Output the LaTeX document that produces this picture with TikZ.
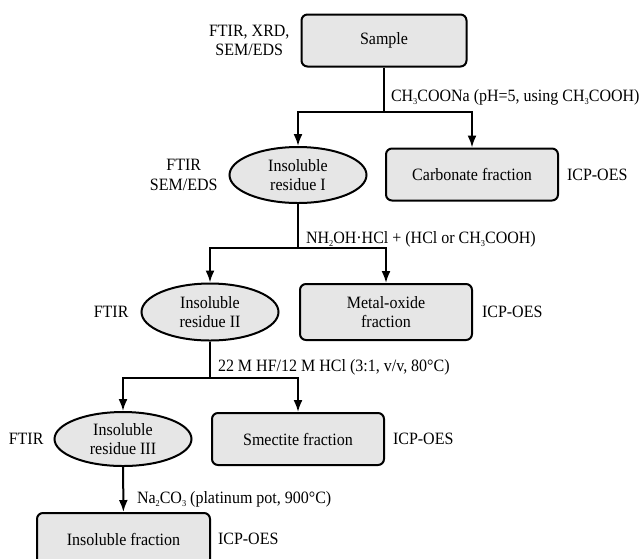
\documentclass[tikz,border=0pt]{standalone}
\usepackage{fontspec}
\setmainfont{Liberation Serif}[FakeStretch=0.925]
\usetikzlibrary{positioning,arrows.meta,shapes.geometric}
\definecolor{boxfill}{RGB}{230,230,230}
\newcommand\subn[1]{\raisebox{-0.45ex}{\fontsize{9pt}{9pt}\selectfont#1}}
\tikzset{
fracbox/.style={
  rectangle,
  rounded corners=6pt,
  draw=black,
  fill=boxfill,
  minimum width=172pt,
  minimum height=52pt,
  align=center
  },
residue/.style={
  ellipse,
  draw=black,
  fill=boxfill,
  minimum width=137pt,
  minimum height=55pt,
  inner sep=0pt,
  align=center
  },
method/.style={inner sep=0pt, align=center},
reagent/.style={inner sep=0pt, anchor=west}
}
\begin{document}
\begin{tikzpicture}[x=1pt,y=-1pt,>={Latex[length=12pt,width=9pt]},
    line width=2pt,font=\fontsize{17.3pt}{19.5pt}\selectfont]

\useasboundingbox (0,0) rectangle (644,558);
\clip (0,0) rectangle (644,558);

\node[fracbox,minimum width=165pt] at (384,40.5) (sample) {Sample};
\node[residue,minimum height=56pt] at (298,175) (resI) {Insoluble\\residue I};
\node[fracbox] at (472,174.5) (carbonate) {Carbonate fraction};
\node[residue,minimum height=57pt] at (210,312) (resII) {Insoluble\\residue II};
\node[fracbox,minimum height=56pt] at (386,312) (metaloxide) {Metal-oxide\\fraction};
\node[residue,minimum height=54pt] at (123,439) (resIII) {Insoluble\\residue III};
\node[fracbox] at (298,439) (smectite) {Smectite fraction};
\node[fracbox,minimum width=173pt] at (123.5,539) (insoluble) {Insoluble fraction};

\node[method,left=10pt of sample] (anaSample) {FTIR, XRD,\\SEM/EDS};
\node[method,left=10pt of resI] (anaResI) {FTIR\\SEM/EDS};
\node[method,left=11pt of resII] (anaResII) {FTIR};
\node[method,left=9pt of resIII] (anaResIII) {FTIR};

\node[method,right=7pt of carbonate] (icpCarbonate) {ICP-OES};
\node[method,right=8pt of metaloxide] (icpMetaloxide) {ICP-OES};
\node[method,right=7pt of smectite] (icpSmectite) {ICP-OES};
\node[method,right=6pt of insoluble] (icpInsoluble) {ICP-OES};

\coordinate (split1) at (384,112);
\coordinate (split2) at (298,248);
\coordinate (split3) at (210,378);

\begin{scope}
\draw (sample) -- (split1);
\draw[->] (split1) -| (resI);
\draw[->] (split1) -| (carbonate);

\draw (resI) -- (split2);
\draw[->] (split2) -| (resII);
\draw[->] (split2) -| (metaloxide);

\draw (resII) -- (split3);
\draw[->] (split3) -| (resIII);
\draw[->] (split3) -| (smectite);

\draw[->] (resIII) -- (insoluble);
\end{scope}

\node[reagent] at (390,97) (step1)
  {CH\subn{3}COONa (pH=5, using CH\subn{3}COOH)};
\node[reagent] at (305,239) (step2)
  {NH\subn{2}OH·HCl + (HCl or CH\subn{3}COOH)};
\node[reagent] at (217,367) (step3)
  {22 M HF/12 M HCl (3:1, v/v, 80°C)};
\node[reagent] at (136,499) (step4)
  {Na\subn{2}CO\subn{3} (platinum pot, 900°C)};

\end{tikzpicture}
\end{document}
